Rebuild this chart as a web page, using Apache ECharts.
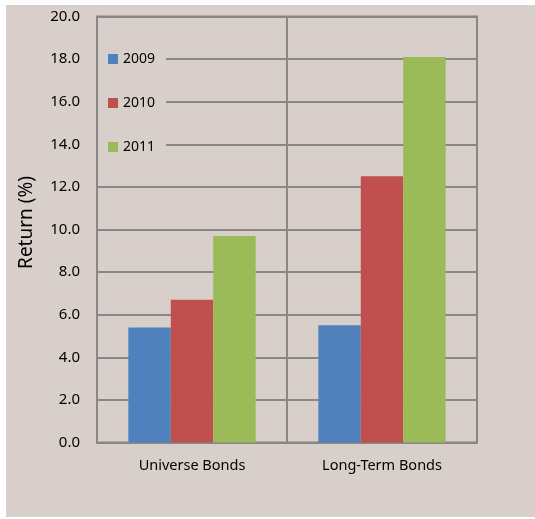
<!DOCTYPE html>
<html><head><meta charset="utf-8">
<script src="https://cdn.jsdelivr.net/npm/echarts@6/dist/echarts.min.js"></script>
<style>html,body{margin:0;padding:0;background:#fff}#c{position:absolute;left:6px;top:5px;width:529px;height:512px;background:#d8cfca}</style>
</head><body><div id="c"></div>
<script>
const categories = ["Universe Bonds", "Long-Term Bonds"];
const seriesNames = ["2009", "2010", "2011"];
const values2009 = [5.4, 5.5];
const values2010 = [6.7, 12.5];
const values2011 = [9.7, 18.1];
const yTicks = {min: 0, max: 20, interval: 2};

const colors = ["#4f81bd", "#c0504d", "#9bbb59"];
const bg = "#d8cfca";
const gridCol = "#878787";
const font = "Noto Sans";
const chart = echarts.init(document.getElementById('c'), null, {renderer: 'canvas'});
const data = [values2009, values2010, values2011];
chart.setOption({
  backgroundColor: bg,
  animation: false,
  color: colors,
  grid: {left: 91, top: 11.5, right: 58, bottom: 74.5, show: true, borderColor: gridCol, borderWidth: 2, backgroundColor: 'transparent'},
  legend: {
    orient: 'vertical', left: 92, top: 41,
    itemWidth: 10, itemHeight: 10, itemGap: 30,
    icon: 'rect',
    padding: [6, 11, 6, 10],
    backgroundColor: bg,
    textStyle: {fontFamily: font, fontSize: 14, color: '#000'},
    data: seriesNames
  },
  xAxis: {
    type: 'category', data: categories,
    axisLine: {lineStyle: {color: gridCol, width: 2}},
    axisTick: {show: false},
    axisLabel: {fontFamily: font, fontSize: 14.5, color: '#000', margin: 16},
    splitLine: {show: true, interval: 0, lineStyle: {color: gridCol, width: 2}}
  },
  yAxis: {
    type: 'value', min: yTicks.min, max: yTicks.max, interval: yTicks.interval,
    name: 'Return (%)', nameLocation: 'middle', nameGap: 61,
    nameTextStyle: {fontFamily: font, fontSize: 19, color: '#000', padding: [0, 0, 0, 14]},
    axisLine: {show: true, lineStyle: {color: gridCol, width: 2}},
    axisTick: {show: false},
    axisLabel: {fontFamily: font, fontSize: 15, color: '#000', margin: 17, formatter: v => v.toFixed(1)},
    splitLine: {lineStyle: {color: gridCol, width: 2}}
  },
  series: seriesNames.map((n, i) => ({
    name: n, type: 'bar', data: data[i],
    barGap: '0%', barCategoryGap: '33%',
    itemStyle: {color: colors[i]}
  }))
});
</script></body></html>
